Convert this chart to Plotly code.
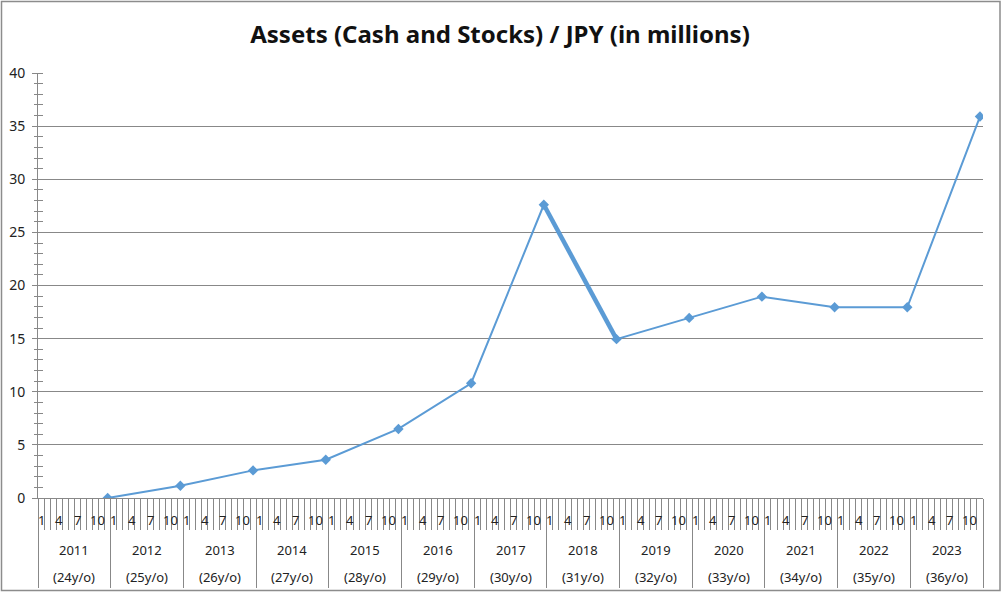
import plotly.graph_objects as go

years = [2011, 2012, 2013, 2014, 2015, 2016, 2017, 2018, 2019, 2020, 2021, 2022, 2023]
ages = ["(24y/o)", "(25y/o)", "(26y/o)", "(27y/o)", "(28y/o)", "(29y/o)", "(30y/o)",
        "(31y/o)", "(32y/o)", "(33y/o)", "(34y/o)", "(35y/o)", "(36y/o)"]
assets = [0.0, 1.15, 2.6, 3.6, 6.5, 10.8, 27.6, 14.95, 16.95, 18.95, 17.95, 17.95, 35.9]
month_labels = ["1", "4", "7", "10"]
month_label_nums = [1, 4, 7, 10]
record_month = 12

W, H = 1004, 593
L, R, T, B = 38, 21, 73, 95
pw, ph = W - L - R, H - T - B

BLUE = "#5B9BD5"
GRAY = "#888888"
FONT = "Noto Sans"
TXT = "#222222"

nyears = len(years)
xs = [i * 12 + (record_month - 0.5) for i in range(nyears)]

fig = go.Figure()
fig.add_trace(go.Scatter(
    x=xs, y=assets, mode="lines+markers",
    line=dict(color=BLUE, width=2),
    marker=dict(symbol="diamond", size=8, color=BLUE),
    hoverinfo="skip", showlegend=False))
# the thicker segment between 2017 and 2018 in the original
fig.add_trace(go.Scatter(
    x=xs[6:8], y=assets[6:8], mode="lines",
    line=dict(color=BLUE, width=4.5),
    hoverinfo="skip", showlegend=False))

annotations = []
for i, yr in enumerate(years):
    for lab, m in zip(month_labels, month_label_nums):
        annotations.append(dict(
            x=i * 12 + m - 0.5 + (0.3 if len(lab) > 1 else 0), y=-22 / ph, xref="x", yref="paper",
            text=lab, showarrow=False, xanchor="center", yanchor="middle",
            font=dict(family=FONT, size=13, color=TXT)))
    annotations.append(dict(
        x=i * 12 + 6, y=-52 / ph, xref="x", yref="paper",
        text=str(yr), showarrow=False, xanchor="center", yanchor="middle",
        font=dict(family=FONT, size=13, color=TXT)))
    annotations.append(dict(
        x=i * 12 + 6, y=-79 / ph, xref="x", yref="paper",
        text=ages[i], showarrow=False, xanchor="center", yanchor="middle",
        font=dict(family=FONT, size=13, color=TXT)))

shapes = [dict(
    type="rect", xref="paper", yref="paper",
    x0=(1.5 - L) / pw, x1=(W - 4 - L) / pw,
    y0=(T + ph - (H - 2.5)) / ph, y1=(T + ph - 1.5) / ph,
    line=dict(color="#8c8c8c", width=1.5), layer="below")]

fig.update_layout(
    width=W, height=H,
    margin=dict(l=L, r=R, t=T, b=B, autoexpand=False),
    paper_bgcolor="white", plot_bgcolor="white",
    title=dict(text="<b>Assets (Cash and Stocks) / JPY (in millions)</b>",
               x=500 / W, xref="container", xanchor="center",
               y=1 - 35 / H, yanchor="middle",
               font=dict(family=FONT, size=24, color="#111111")),
    xaxis=dict(
        range=[0, nyears * 12], showgrid=False, zeroline=False, automargin=False,
        showline=True, linecolor=GRAY, linewidth=1,
        tickmode="array", tickvals=[i * 12 for i in range(nyears + 1)],
        showticklabels=False, ticks="outside", ticklen=89, tickcolor=GRAY, tickwidth=1,
        minor=dict(tickmode="linear", tick0=0, dtick=1, ticks="outside",
                   ticklen=31, tickcolor=GRAY, tickwidth=1, showgrid=False)),
    yaxis=dict(
        range=[0, 40], dtick=5, tick0=0, automargin=False,
        showgrid=True, gridcolor=GRAY, gridwidth=1, zeroline=False,
        showline=True, linecolor=GRAY, linewidth=1,
        ticks="outside", ticklen=5, tickcolor=GRAY, ticklabelstandoff=4,
        tickfont=dict(family=FONT, size=14, color=TXT),
        minor=dict(dtick=1, tick0=0, ticks="outside", ticklen=3, tickcolor=GRAY, showgrid=False)),
    yaxis2=dict(
        range=[0, 40], overlaying="y", side="left", anchor="x", automargin=False,
        showgrid=False, zeroline=False, showticklabels=False, showline=False,
        ticks="", tickvals=[],
        minor=dict(dtick=1, tick0=0, ticks="inside", ticklen=5, tickcolor=GRAY, showgrid=False)),
    annotations=annotations,
    shapes=shapes,
)
fig.add_trace(go.Scatter(x=[None], y=[None], yaxis="y2", showlegend=False, hoverinfo="skip"))

fig.write_html("out.html")
